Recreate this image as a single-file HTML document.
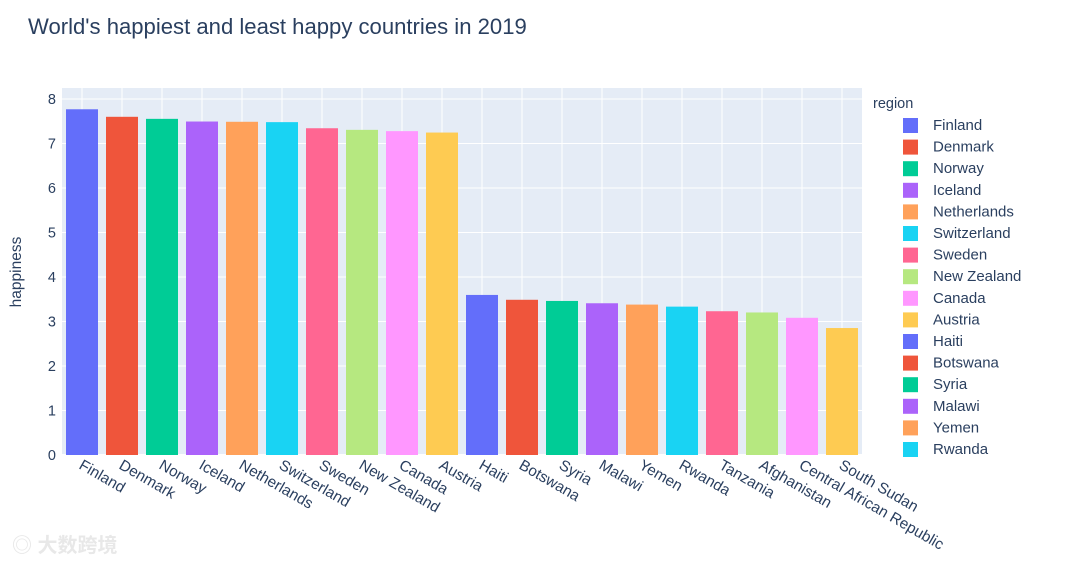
<!DOCTYPE html>
<html><head><meta charset="utf-8"><style>
body{margin:0;background:#fff;width:1080px;height:563px;overflow:hidden;font-family:"Liberation Sans","Noto Sans CJK SC",sans-serif}
</style></head><body>
<svg id="chart" width="1080" height="563" xmlns="http://www.w3.org/2000/svg">
<text x="28" y="34" font-size="22.1" fill="#2a3f5f">World's happiest and least happy countries in 2019</text>
<rect x="62" y="88" width="800" height="367" fill="#e5ecf6"/>
<g id="grid"></g><g id="bars"></g><g id="xlabels"></g><g id="ylabels"></g>
<text transform="translate(21,272) rotate(-90)" text-anchor="middle" font-size="15.5" fill="#2a3f5f">happiness</text>
<text x="873" y="108" font-size="14.5" fill="#2a3f5f">region</text>
<g id="legend"></g>
<text x="12" y="552" font-size="20" fill="#e8e8e8" font-weight="bold">◎ 大数跨境</text>
</svg>
<script>
const categories=["Finland","Denmark","Norway","Iceland","Netherlands","Switzerland","Sweden","New Zealand","Canada","Austria","Haiti","Botswana","Syria","Malawi","Yemen","Rwanda","Tanzania","Afghanistan","Central African Republic","South Sudan"];
const values=[7.769,7.6,7.554,7.494,7.488,7.48,7.343,7.307,7.278,7.246,3.597,3.488,3.462,3.41,3.38,3.334,3.231,3.203,3.083,2.853];
const yTicks=[0,1,2,3,4,5,6,7,8];
const colors=["#636efa","#EF553B","#00cc96","#ab63fa","#FFA15A","#19d3f3","#FF6692","#B6E880","#FF97FF","#FECB52"];
const NS="http://www.w3.org/2000/svg";
const x0=62,pw=800,yb=455,unit=44.5;
const band=pw/categories.length;
function xs(i){return x0+band*i+band/2;}
function ys(v){return yb-v*unit;}
function mk(tag,attrs,parent){const e=document.createElementNS(NS,tag);for(const k in attrs)e.setAttribute(k,attrs[k]);document.getElementById(parent).appendChild(e);return e;}
categories.forEach((c,i)=>{
 const g=mk("line",{x1:xs(i),x2:xs(i),y1:88,y2:455,stroke:"#fff","stroke-width":1},"grid");
 
 
});
yTicks.forEach(t=>{
 const l=mk("line",{x1:62,x2:862,y1:ys(t),y2:ys(t),stroke:"#fff","stroke-width":t===0?2:1},"grid");
 
 
 const tx=mk("text",{x:56,y:ys(t)+5,"text-anchor":"end","font-size":14.5,fill:"#2a3f5f"},"ylabels");
 tx.textContent=t;
 
 
});
categories.forEach((c,i)=>{
 const col=colors[i%10];
 const b=mk("rect",{x:xs(i)-16,y:ys(values[i]),width:32,height:values[i]*unit,fill:col},"bars");
 
 
 const t=mk("text",{transform:`translate(${xs(i)-4},468) rotate(30)`,"font-size":15.3,fill:"#2a3f5f"},"xlabels");
 t.textContent=c;
 
 
 if(i<16){
  const ly=125+i*21.6;
  const s=mk("rect",{x:903,y:ly-7,width:15,height:15,fill:col},"legend");
  
  
  const lt=mk("text",{x:933,y:ly+5,"font-size":15,fill:"#2a3f5f"},"legend");
  lt.textContent=c;
  
  
 }
});
</script>
</body></html>
